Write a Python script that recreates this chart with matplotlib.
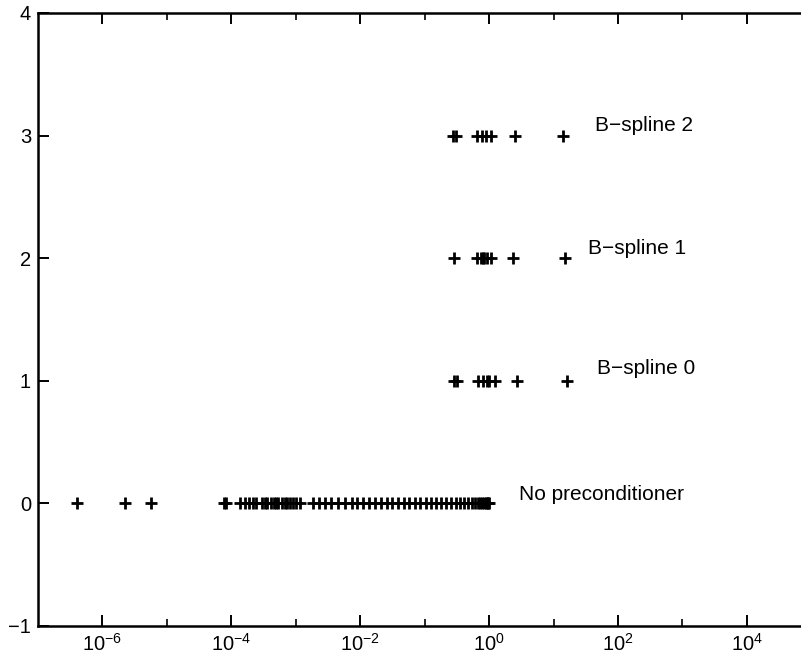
import matplotlib
matplotlib.use("Agg")
import matplotlib.pyplot as plt
import numpy as np

plt.rcParams["font.family"] = ["Liberation Sans", "DejaVu Sans"]
plt.rcParams["mathtext.fontset"] = "custom"
plt.rcParams["mathtext.rm"] = "Liberation Sans"

# eigenvalue exponents (log10) per preconditioner row
none_log10 = [-6.39, -5.65, -5.24, -4.12, -4.09,
              -3.86, -3.79, -3.72, -3.67, -3.61, -3.53, -3.48, -3.44, -3.39, -3.34,
              -3.30, -3.27, -3.22, -3.17, -3.14, -3.09, -3.05, -2.99, -2.94,
              -2.74, -2.64, -2.55, -2.46, -2.35, -2.24, -2.13, -2.05, -1.96, -1.87,
              -1.77, -1.68, -1.59, -1.51, -1.42, -1.32, -1.24, -1.15, -1.07, -0.98,
              -0.90, -0.82, -0.75, -0.67, -0.59, -0.51, -0.45, -0.39, -0.33, -0.26,
              -0.22, -0.17, -0.14, -0.11, -0.08, -0.05, -0.03, -0.02, 0.00]
bspl0_log10 = [-0.54, -0.50, -0.17, -0.09, -0.03, 0.00, 0.09, 0.44, 1.21]
bspl1_log10 = [-0.54, -0.19, -0.12, -0.09, -0.08, -0.03, 0.03, 0.37, 1.17]
bspl2_log10 = [-0.56, -0.51, -0.19, -0.11, -0.05, 0.03, 0.40, 1.15]

rows = [0, 1, 2, 3]
labels = ["No preconditioner", "B\u2212spline 0", "B\u2212spline 1", "B\u2212spline 2"]
label_x = [2.9, 47.8, 34.6, 44.7]
label_y = [0.07, 1.10, 2.08, 3.08]
yticks = [-1, 0, 1, 2, 3, 4]

major_exp = [-6, -4, -2, 0, 2, 4]
minor_exp = [-5, -3, -1, 1, 3, 5]

fig = plt.figure(figsize=(8.01, 6.62), dpi=100)
ax = fig.add_axes([0.0474, 0.0544, 1.046, 0.926])

for r, ex in zip(rows, [none_log10, bspl0_log10, bspl1_log10, bspl2_log10]):
    xs = 10.0 ** np.array(ex)
    ax.plot(xs, np.full(len(xs), r), ls="none", marker="+", color="black",
            markersize=8, markeredgewidth=2.0)

for t, x, y in zip(labels, label_x, label_y):
    ax.text(x, y, t, fontsize=15, ha="left", va="center")

ax.set_xscale("log")
ax.set_xlim(1e-7, 1e6)
ax.set_ylim(-1, 4)
ax.set_xticks([10.0 ** e for e in major_exp])
ax.set_xticklabels([rf"$\mathregular{{10^{{{e}}}}}$" for e in major_exp])
ax.set_xticks([10.0 ** e for e in minor_exp], minor=True)
ax.set_xticklabels([], minor=True)
ax.set_yticks(yticks)

ax.tick_params(axis="both", which="major", direction="in", length=8, width=1.4,
               top=True, right=True, labelsize=14.5, pad=5)
ax.tick_params(axis="x", which="minor", direction="in", length=5, width=1.2, top=True)
for s in ax.spines.values():
    s.set_linewidth(1.8)

fig.savefig("out.png", dpi=100)
